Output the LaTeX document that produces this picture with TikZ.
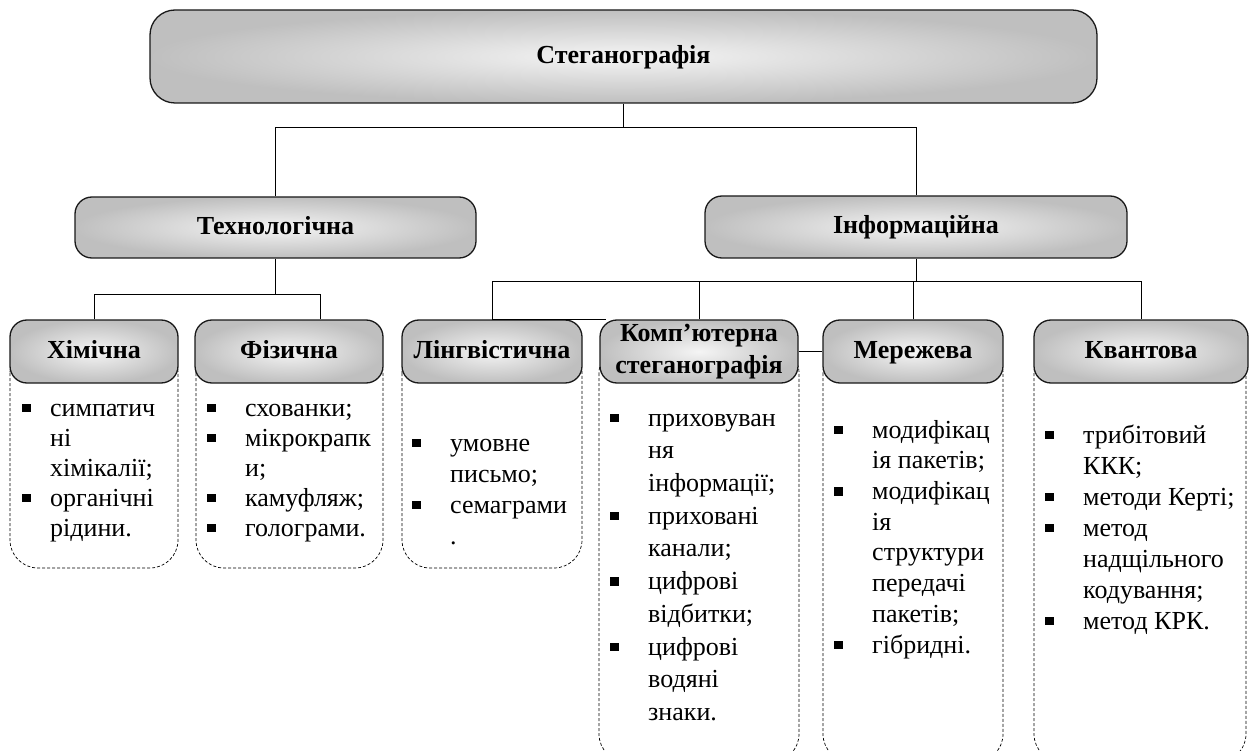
\documentclass[tikz,border=0pt]{standalone}
\usepackage{fontspec}
\setmainfont{Liberation Serif}
\usetikzlibrary{positioning,calc}
\newcommand{\hdfont}{\fontsize{26}{32}\selectfont\bfseries}
\newcommand{\lsfont}[1]{\fontsize{26}{#1}\selectfont}
\newcommand{\bul}[1][38pt]{\strut\makebox[#1][l]{\raisebox{4pt}{\rule{8.5pt}{8.5pt}}}}
\newcommand{\cnt}[1][38pt]{\strut\hspace*{#1}}

\begin{document}
\begin{tikzpicture}[x=1pt, y=-1pt,
  head/.style={rectangle, draw=black!90, line width=1.3pt, rounded corners=17pt,
               inner color=gray!8, outer color=gray!50, align=center,
               font=\hdfont, minimum height=63pt, inner sep=0pt,
               execute at begin node={\rule[-5pt]{0pt}{24pt}}},
  body/.style={draw=black, dash pattern=on 3pt off 2pt,
               line width=0.7pt, rounded corners=28pt},
  items/.style={anchor=north west, align=left, inner sep=0pt},
  link/.style={draw, line width=0.9pt},
]
  \useasboundingbox (0,0) rectangle (1250,751);

  % Dashed bodies (behind the headers)
  \draw[body] (10,345) rectangle (178,568);
  \draw[body] (196,345) rectangle (383,568);
  \draw[body] (402,345) rectangle (582,568);
  \draw[body] (599,345) rectangle (799,762);
  \draw[body] (823,345) rectangle (1003,762);
  \draw[body] (1034,345) rectangle (1246,762);

  % Top levels
  \node[head, minimum width=947pt, minimum height=93pt, rounded corners=25pt]
       (steg) at (623.5,56.5) {Стеганографія};
  \node[head, minimum width=401pt, minimum height=61pt] (tech) at (275.5,227.5)
       {Технологічна};
  \node[head, minimum width=422pt, minimum height=62pt] (inf) at (916,227)
       {Інформаційна};

  % Third level
  \node[head, minimum width=168pt] (him) at (94,351.5) {Хімічна};
  \node[head, minimum width=188pt] (fiz) at (289,351.5) {Фізична};
  \node[head, minimum width=180pt] (lin) at (492,351.5) {Лінгвістична};
  \node[head, minimum width=198pt] (komp) at (699,351.5)
       {Комп’ютерна\\стеганографія};
  \node[head, minimum width=180pt] (mer) at (913,351.5) {Мережева};
  \node[head, minimum width=214pt] (kvant) at (1141,351.5) {Квантова};

  % Connectors
  \draw[link] (steg.south) -- ++(0,24) coordinate (sb);
  \draw[link] (tech.north) |- (sb) -| (inf.north);
  \draw[link] (tech.south) -- ++(0,36) coordinate (tb);
  \draw[link] (him.north) |- (tb) -| ([xshift=31pt]fiz.north);
  \draw[link] (inf.south) -- ++(0,23) coordinate (ib);
  \draw[link] (lin.north) |- (ib) -| (kvant.north);
  \draw[link] (komp.north) -- (komp.north |- ib);
  \draw[link] (mer.north) -- (mer.north |- ib);
  \draw[link] (lin.north) -- ([xshift=7pt]komp.north west);
  \draw[link] (komp.east) -- (mer.west);

  % Lists
  \node[items, font={\lsfont{30}}] (himtx) at (22,395)
       {\bul[28pt]симпатич\\ \cnt[28pt]ні\\ \cnt[28pt]хімікалії;\\
        \bul[28pt]органічні\\ \cnt[28pt]рідини.};
  \node[items, font={\lsfont{30}}] (fiztx) at (207,395)
       {\bul схованки;\\ \bul мікрокрапк\\ \cnt и;\\ \bul камуфляж;\\
        \bul голограми.};
  \node[items, font={\lsfont{31}}] (lintx) at (412,429.3)
       {\bul умовне\\ \cnt письмо;\\ \bul семаграми\\ \cnt .};
  \node[items, font={\lsfont{32.7}}] (komptx) at (610,403.1)
       {\bul приховуван\\ \cnt ня\\ \cnt інформації;\\ \bul приховані\\
        \cnt канали;\\ \bul цифрові\\ \cnt відбитки;\\ \bul цифрові\\
        \cnt водяні\\ \cnt знаки.};
  \node[items, font={\lsfont{30.7}}] (mertx) at (834,416.5)
       {\bul модифікац\\ \cnt ія пакетів;\\ \bul модифікац\\ \cnt ія\\
        \cnt структури\\ \cnt передачі\\ \cnt пакетів;\\ \bul гібридні.};
  \node[items, font={\lsfont{31}}] (kvanttx) at (1045,421.3)
       {\bul трибітовий\\ \cnt ККК;\\ \bul методи Керті;\\ \bul метод\\
        \cnt надщільного\\ \cnt кодування;\\ \bul метод КРК.};
\end{tikzpicture}
\end{document}
